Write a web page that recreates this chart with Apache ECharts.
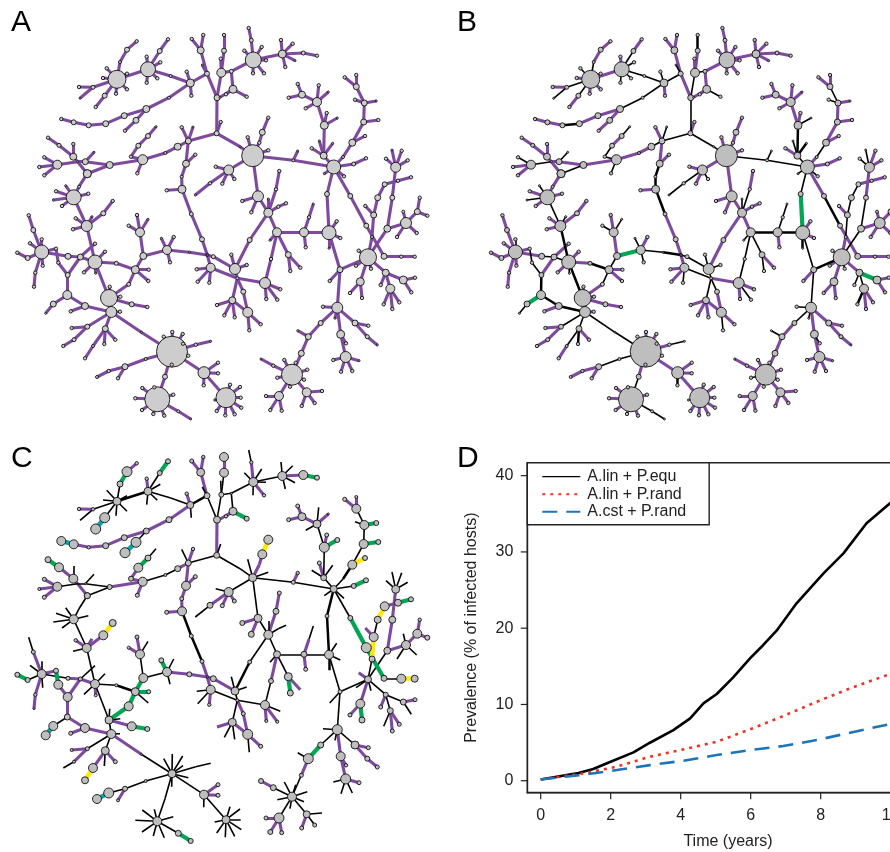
<!DOCTYPE html>
<html><head><meta charset="utf-8">
<style>html,body{margin:0;padding:0;background:#fff;overflow:hidden}#c{width:890px;height:852px}</style>
<script src="https://cdn.jsdelivr.net/npm/echarts@6/dist/echarts.min.js"></script></head>
<body><div id="c"></div>
<script>
// Network node = [x, y, radius in A/B, radius in C, edge style in B + edge style in C, children]
// Edge styles: p purple, k thin black, K thick black, g green, y yellow, t teal
const networkTree = [252.7,155.7,11,4,'kk',[
 [240,146.7,1,0,'kk',[[216.7,133.3,2.5,3,'kk',[
  [220.7,122,1.7,0,'pk'],
  [217,97.7,3,3.5,'kp',[
   [221.3,72.7,4.5,2.5,'kk',[
    [224,50.7,2.5,4.5,'pk',[[224,35,1.7,4.5,'Kp']]],
    [220.7,58.7,1.7,0,'pk'],
    [231.3,71.3,2,1,'kk',[
     [233,89.3,4,4,'pk',[[246.7,96.7,1.7,2.5,'kg'],[226,94.3,1.7,1.7,'pp'],[220,97.3,1,0,'pp']]],
     [253.3,60,8,4.5,'pk',[
      [251.3,40.3,2,1.7,'pp',[[248.7,28,1.7,0,'pk']]],
      [244.3,50.7,1.7,0,'pk'],[261.7,47,1.7,0,'pk'],[266,60.3,1.7,0,'pk'],[264,73.3,1.7,1.7,'pp'],[253,73.3,1.7,0,'pk'],
      [282.3,54,4,4.5,'pk',[[281,40,1.7,0,'pk'],[292.7,43.7,1.7,0,'pk'],[295,60.7,1,0,'pk'],[285.3,67,1.7,0,'pk'],
       [303.3,53,2,4.5,'pp',[[317,55.7,1.7,2.5,'pg']]]]]
     ]]
    ]]
   ]],
   [207,73.7,2.5,3,'pk',[
    [202.3,65,1,0,'kk'],
    [200.7,50.3,3.5,4,'pp',[[191.7,39,1.7,2,'pp'],[203.3,35,1.7,1.7,'pp']]],
    [190.3,83,4,3.5,'kK',[
     [191.3,95.7,1.7,0,'pk'],[186.7,71.7,1.7,1.7,'kp'],
     [170.7,76,1.5,0,'kk',[[148,69.3,7.5,4,'kk',[
      [146.7,56.7,1.7,1.7,'pp'],[160.3,62.3,1.7,0,'kk'],[157.3,78.3,1.7,0,'kk'],[146.7,82.7,1.7,0,'kk'],
      [159.7,51,2.5,2.5,'kk',[[168,39.3,1.7,2.5,'pg']]],
      [117,79.3,9,4,'pK',[
       [127,73.7,1.7,0,'pk'],[106.7,68.3,1.7,0,'kk'],[103,78,1.7,0,'pk'],[116,93.7,1.7,0,'pk'],[127,89.3,1.7,0,'pk'],
       [120,62,1.5,3,'kk',[[127,49.7,2.5,5,'pg',[[136.7,41.3,1.7,1.7,'pp']]]]],
       [93,87.3,2,1.7,'kk',[[79,87,1.7,1.7,'pp'],[80,98.3,1,0,'kk']]],
       [104.7,95.7,2.5,5,'kk',[[95.7,107,1.7,5,'pt']]]
      ]]
     ]]]],
     [169,97.7,1.5,3,'kp',[[146.3,109,3.5,3,'kp',[
      [136,120.3,3,5,'pk',[[125,130.7,1.7,5,'pt']]],
      [124.3,115.7,3,3,'pp',[[105.7,123.7,3,3,'pp',[[88.7,125.3,2.5,1.7,'Kp',[[73.7,122.3,2.5,4.5,'pp',[[61.3,119,1.7,4.5,'pt']]]]]]]]]
     ]]]]
    ]]
   ]]
  ]],
  [188.3,141,3,3,'kk',[
   [181.7,127.3,1.7,0,'pk'],[193,127,1,1.7,'kp'],
   [186,163.7,3.5,4.5,'pp',[[195.3,154.7,1.7,2,'pp'],
    [181.7,176.7,1.5,2,'Kp',[[182,189.3,4,4.5,'Kp',[[166.7,190.3,1.7,2,'pp'],
     [191.3,214,2,2,'KK',[[202,239.3,2.5,2,'pK',[[207.3,255,1,1,'pp']]]]]
    ]]]]
   ]],
   [177.7,146.7,3.5,3,'kp',[[165.3,153,1.5,1.5,'pk',[[142.7,159.7,5,4.5,'pk',[
    [137.3,173.3,1.7,2,'kp'],
    [131,156.7,1.7,2.5,'kp',[[138.3,145.7,2.5,4.5,'kp',[[148,136,2.5,3,'pg',[[156,126.7,1,0,'kk']]]]]]],
    [109.7,165,3.5,2.5,'pp',[
     [85.3,161.7,3,1,'pk',[
      [94,152.3,1,0,'kk'],
      [77.7,161.7,1,0,'pk',[
       [73.3,156.7,3.5,4.5,'pp',[[73.3,144,1.7,0,'pk'],[59,145.3,2,4.5,'pp',[[48,137.7,1.7,3,'pg']]]]],
       [57.3,164.7,4.5,4.5,'kk',[[44.3,157.3,1.7,2,'kp'],[39.3,167,1.7,1.5,'pp'],[44.3,175.3,1.7,2,'pp']]],
       [87.3,173.7,4,3,'pp']
      ]]
     ]],
     [87.3,173.7,4,3,'kk',[[79,186.7,1.5,0,'pk',[[73.7,197.3,7.5,4.5,'pk',[
      [65.7,185.7,1,0,'kk'],[56,191.3,1.7,0,'pk'],[53.3,200,1,0,'kk'],[62,206,1.7,0,'pk'],[88.3,193.7,1.7,0,'pk'],
      [86.7,226,5.5,4.5,'kk',[
       [75.7,218.3,1.7,1.7,'pp'],[73,229.3,1.7,0,'pk'],[92,216.7,1,0,'kp'],
       [103.3,213.3,2.5,4.5,'pp',[[112.7,201,1.7,3.5,'py']]],
       [95,262,7,4.5,'Kk',[
        [105,251.7,1.7,0,'pk'],[84,272.3,1.7,0,'pk'],[95.7,273.3,1,1.5,'kp'],
        [116.3,263.3,2,1.5,'pk',[[135.3,269.7,4,4,'KK',[
         [148.7,269.7,1.7,2,'pg'],[148.3,281,1.7,0,'pk'],
         [143.3,256,3.5,4.5,'kg',[
          [140,232.3,4.5,4.5,'pk',[[137,215,1.7,2,'pp'],[128.7,225.7,1.7,1.5,'kp'],[148,219.3,1,0,'kk']]],
          [167,250,4.5,4.5,'gk',[
           [161.3,238.3,1,2.5,'kg'],[173.7,237,1.7,0,'pk'],[170,262.3,1.7,0,'kk'],
           [189.3,252.3,1,2.5,'kp',[[207.3,255,1.5,1,'Kp',[
            [213.3,256.7,2,3,'kp',[[235,269,0,0,'kp']]],
            [210.7,267.7,4.5,4.5,'pp',[[196.7,269.3,1.7,0,'pk'],[197.7,281.7,1.7,0,'pk'],[209.3,282.7,1.7,1.7,'kp'],[237.3,278.3,0,0,'kk']]]
           ]]]]
          ]]
         ]]
        ]]]],
        [80.3,257,3,2,'kp',[[95,243.7,1.7,0,'pk'],
         [68,256.3,3,2,'kp',[[41.7,252,7,4.5,'pk',[
          [41.7,239.3,1.7,0,'kk'],[30,243.3,1.7,0,'pk'],
          [33.3,230,2.5,2,'pp',[[28.7,215.3,1.7,0,'pk']]],
          [27.7,258,2.5,2.5,'pk',[[17.3,252.7,1.7,2.5,'pg']]],
          [42.7,265.7,1.7,0,'pk'],
          [35.3,272.7,1.7,1.7,'pp',[[34,286.7,1.7,1,'pp']]],
          [56,248.7,1.7,2.5,'pp',[[58.3,262.7,1.7,4.5,'kg',[[67.7,275,2.5,4.5,'kp',[[80.3,257,0,0,'pp']]]]]]]
         ]]]]
        ]],
        [109,298,8.5,4,'Kk',[
         [109.7,286.7,1.7,0,'pk'],[120.3,296.7,1.7,0,'pk'],
         [131.7,304.3,2.5,4.5,'pp',[[147.3,307,1.7,2.5,'pg']]],
         [128.7,284.3,2,4.5,'pg',[[135.3,269.7,0,0,'kg']]],
         [111.3,312,5.5,4.5,'pk',[
          [120,311.7,1.7,0,'pk'],
          [85,306,3.5,4.5,'Kp',[[70.7,311.3,1.7,2,'pp'],
           [67.3,295,4.5,3,'Kp',[[67.7,275,0,0,'Kp'],[53.3,304,3,4.5,'gk',[[45.7,313.3,1,4.5,'kt']]]]]
          ]],
          [87.3,326.7,2.5,2,'kk',[[71.7,328,1.7,1.5,'pp'],[74,339.7,2,1.5,'pp',[[63.3,346,1.7,0,'pk']]]]],
          [105.3,328.7,3,4,'kk',[[115.3,339.7,1.7,2,'pp'],[104.3,344,1.7,0,'Kk'],[93,346,1.5,4.5,'kp',[[85,358.3,1.7,3.5,'py']]]]],
          [141.3,332.3,1,1,'kp',[[172,351.7,15.5,4,'kk',[
           [163.7,336.7,1.7,0,'kk'],[172.3,332,1.7,0,'pk'],[182.7,334,1.7,0,'pk'],[183,343.7,1.7,0,'pk'],[188.3,355.7,1.7,0,'pk'],[171.7,364.7,1.7,0,'pk'],
           [195.7,344.7,1.7,0,'pk',[[210.7,341.3,1,0,'kk']]],
           [204,372.7,6,4.5,'pk',[[218,362.7,1.7,2,'pp'],[218,373.3,1.7,2,'pp'],[203.7,385.3,1.7,0,'Kk'],
            [226,397.7,10,4,'pk',[[230,384.7,1.7,0,'pk'],[240,387,1.7,0,'pk'],[240.7,397.7,1.7,0,'pk'],[241.3,407.7,1.7,0,'pk'],[234.7,414.3,1.7,0,'pk'],[225.3,415.3,1.7,0,'pk'],[216.7,411,1.7,0,'pk'],[214.7,400,1,0,'kk']]]
           ]],
           [145.7,359,1.5,1.5,'kk',[[125,366.7,3,2.5,'kk',[[108.7,371,1.7,5,'pk',[[97,377,1.5,4.5,'pt']]],[118,378.3,1.7,1.5,'pp']]]]],
           [165,376.7,2.5,0,'pk',[[157.3,399.3,12.5,4.5,'kk',[
            [154.3,387.3,1.7,0,'pk'],[142.3,388,1.7,0,'pk'],[135.3,398.3,1.7,0,'pk'],[142,410,1.7,0,'pk'],[153.3,414,1.7,0,'pk'],[164.3,415.7,1.7,0,'pk'],[173.3,394.7,1.7,0,'pk'],
            [178.3,411.3,1.5,3,'kk',[[190.7,419,1,2.5,'kg']]]
           ]]]]
          ]]]]
         ]]
        ]]
       ]]
      ]]
     ]]]]]]
    ]]
   ]]]]]]
  ]]
 ]]]],
 [259.3,142.7,1.7,0,'pp',[[262.3,132.3,3,4.5,'pp',[[268.3,117.7,1.7,4.5,'py']]]]],
 [247.7,137.3,1.7,0,'pk'],[268.3,150.3,1.7,0,'pk'],
 [293.3,160.3,1.5,2,'kk',[[297.7,151,1,1.7,'kp'],
  [333.7,167,7,3.5,'kk',[
   [323.7,155.7,3.5,3,'kk',[[311.7,148.3,1.7,0,'pk'],[319.3,141,1,2,'kp'],[332.7,143.3,1,0,'Kk'],
    [324.3,125.3,4,5,'Kk',[[326.7,113,1.7,2,'pp'],[337.3,118,1,2.5,'kg'],
     [317,102,4.5,4,'pk',[[318.7,85.3,1.7,0,'pk'],[328.3,92,1,1,'pp'],[305.7,108.3,1.7,0,'pk'],
      [302,94.7,3.5,4,'pp',[[297.7,84,1.7,2,'pp'],[288.7,97.7,1.7,2,'pp']]]]]
    ]]
   ]],
   [343,157,1.5,0,'pk',[[352.3,142.7,3.5,4.5,'kK',[[365,136,1.7,2.5,'py'],
    [363.7,122,3,4.5,'pk',[[378.3,120,1.7,2.5,'pg'],
     [364.3,103,3,4.5,'pk',[[376.3,101,1,2.5,'pg'],[355,99.7,1.7,0,'kk'],
      [356.3,86.7,3,4.5,'kk',[[356.3,75,1.7,1.5,'pp'],[344.7,77.3,1.7,2,'pp']]]]]
    ]]
   ]]]],
   [353.7,164,2,2.5,'pk',[[366,158.3,1.7,2.5,'pg']]],
   [344,176.3,1.7,0,'kk'],[324.3,173.7,1,0,'kk'],
   [327,194,2.5,2,'kK',[[329,232.7,7,4.5,'gK',[
    [336.7,221.3,1.7,0,'pk'],[340.3,238,1.7,0,'pk'],[329,248.3,1,0,'KK'],
    [304,232.3,4.5,3,'Kk',[[309,217.3,1.7,0,'kp',[[313.3,204,1,0,'kk']]],[305.7,247.3,1.7,2,'pp'],
     [277,232.3,4.5,3.5,'Kk',[[270,240.3,1,0,'kk'],
      [288.3,254.7,3,4,'kk',[[290.3,271,1.7,3,'kg'],[300.3,267.7,1.7,0,'pp']]],
      [271,259,1.7,2.5,'kp',[[265,283,5.5,4.5,'kk',[[280.3,289.3,1.7,0,'pk'],[277.3,299.7,1.7,1.5,'kp'],[266.3,299,1.7,1.5,'pp']]]]]
     ]]
    ]],
    [340,269.7,3,2,'kk',[
     [329.7,281,1.7,0,'pk'],
     [368,257.3,8.5,3.5,'Kk',[
      [358.7,250.7,1.7,0,'pp'],[356,265.7,1.7,0,'pk'],[371,268.7,1.7,0,'kk'],
      [372,237,1.5,3,'pk',[[373.7,215,3,4.5,'ky',[[365.3,206,1.7,0,'pp'],[377.7,197.7,3,3.5,'kk',[[384.7,184.3,2.5,4.5,'ky',[[398,180.7,1.7,3.5,'pp',[[411,177.3,1.7,2.5,'pg']]]]]]]]]]],
      [360.3,281.7,4,4.5,'pp',[[350,293,1.7,2,'pp'],[362,298,1.7,3,'pg']]],
      [385.7,272.7,3.5,2.5,'pk',[
       [403.3,280,4,3,'gk',[[415,277.7,1.7,2,'pp'],[411.3,292.3,1.7,0,'pk']]],
       [380.7,285,1.7,2,'kp'],
       [390.3,288.7,4.5,3,'kk',[[383.7,304.3,1.7,0,'Kk'],[392.3,309,1.7,2,'pp'],[399.3,302.3,1.7,2,'pp']]]
      ]],
      [387.3,228.7,3.5,3.5,'kk',[
       [406,223,5.5,4.5,'pp',[[416.7,233,1.7,0,'pk'],[403.3,211.7,1.5,0,'pk'],[397,237,1.7,0,'pk'],
        [417.3,211.7,3,4.5,'pp',[[427.3,215.7,1.7,2.5,'pp'],[419.7,197.7,1.7,1.7,'pp']]]]],
       [392.3,197.7,2.5,3.5,'kp',[[395.7,167.3,5,4,'pp',[[386,158.7,1.7,0,'kk'],[392,150,1,0,'kk'],[401.7,150.7,1.7,0,'pk'],[407.7,160.3,1.7,0,'pk']]]]]
      ]]
     ]],
     [337.3,307.7,5.5,5,'kk',[
      [323,306.7,1.7,0,'kk'],[335,318.3,1,0,'kk'],
      [340.7,334.3,4,4.5,'pp',[[346,343.3,1.7,1.7,'kp'],[345.7,357,5.5,5,'pp',[[333.3,360,1.7,0,'pk'],[341,371.7,1.7,0,'pk'],[352.3,371,1.7,0,'pk'],[359,360.7,1,2,'pp']]]]],
      [355,323,3,4,'pk',[[368.3,325.7,1.7,2,'pp'],[367.3,336.7,2,2.5,'pp',[[377.3,345,1,2,'pp']]]]],
      [320.7,323,2.5,3,'kk',[[308.3,336.7,3,5,'pg',[[297.7,330.7,1,0,'kk'],
       [301.3,353.3,3,2,'pp',[[292,374.7,10.5,4.5,'pk',[
        [284.3,360,1.7,0,'pk'],[295.7,362.7,1.7,0,'kk'],[307.3,369.7,1.7,0,'pk'],[304,379.7,1.7,0,'pk'],[277.3,377.7,1.7,0,'kk'],[290,386.7,1.7,0,'kk'],
        [273.3,365.7,1.7,3,'pk',[[261,359,1,2.5,'pp']]],
        [279,396,4.5,5,'pk',[[266,396,1.7,2,'pp'],[270.3,410,1.7,2.5,'pp'],[281.7,410.7,1.7,2,'pp']]],
        [306.7,392.3,4.5,3.5,'pk',[[322,391,1.7,0,'pk'],[301.7,406,1.7,2,'pp'],[314.7,403,1.7,2,'pk']]]
       ]]]]
      ]]]]
     ]]
    ]]
   ]]]],
   [350.3,196,2.5,2.5,'pk',[[366.3,225.7,2.5,5,'Kg',[[384,256.3,3,3,'pg',[[401.3,256.7,1.7,4.5,'pk',[[414.7,256.7,1.7,3.5,'py']]]]]]]]]
  ]]
 ]],
 [228.7,170,5,4.5,'pk',[[222.3,183.7,1.7,2,'pp'],[234.3,179,1.7,2,'kp'],[215.7,166.7,1.7,0,'pk'],[210,183.3,1.7,3,'kp',[[195.3,195,1,0,'kk']]]]],
 [258,196.3,5.5,4,'pk',[[242.3,201,1.7,2.5,'pp'],[251.3,212.3,1.7,3,'pp'],
  [268.3,212.7,4.5,4.5,'pk',[
   [278.3,206.7,1.7,0,'pk',[[286,203.3,1.7,0,'pk']]],[268.3,199,1,0,'kk'],
   [276,189.3,1.7,3,'kp',[[279.3,171,1.7,2,'pp']]],
   [277,232.3,0,0,'pk'],
   [249.7,240,2.5,2,'pk',[[235,269,5.5,4,'pK',[
    [231.3,254.7,1.7,0,'kk'],[246.7,265,1.7,0,'kk'],
    [237.3,278.3,1.5,1.5,'kk',[[265,283,0,0,'pk'],
     [232.3,300.3,3.5,4,'kk',[[234.7,317.3,1.7,0,'pk'],[224.3,315.3,1.7,0,'pk'],[217,305,1.7,0,'pp'],[247.7,312.3,0,0,'pp']]],
     [243.3,291.7,2.5,2,'kp',[[247.7,312.3,5,5,'pp',[[260.7,324.3,1.7,2,'pp'],[249.3,330.3,1.7,0,'kk']]]]]
    ]]
   ]]]]
  ]]
 ]]
]];

const legendNames = ['A.lin + P.equ','A.lin + P.rand','A.cst + P.rand'];
const timeEqu = [0,1.03,1.5,1.98,2.65,3.12,3.79,4.27,4.65,5.03,5.5,5.98,6.36,6.74,7.31,8.08,8.65,9.31,9.98,10.1];
const prevEqu = [0.17,0.96,1.53,2.45,3.72,4.98,6.64,8.17,10.14,11.37,13.55,16.04,17.8,19.67,23.26,27.19,29.81,33.75,36.37,36.9];
const timeRand = [0,1.22,2.17,3.12,4.08,5.03,5.98,6.93,7.89,8.84,9.98,10.1];
const prevLinRand = [0.17,0.96,1.84,3.15,4.11,5.11,6.73,8.48,10.36,12.11,13.99,14.2];
const prevCstRand = [0.17,0.79,1.4,2.05,2.62,3.37,4.02,4.55,5.33,6.3,7.43,7.55];
const xTicks = [0,2,4,6,8,10];
const yTicks = [0,10,20,30,40];
const panelLetters = ['A','B','C','D'];

const font = '"Liberation Sans", Arial, sans-serif';
const styles = {
  p:{color:'#7D4A9D',width:3.1,z:2}, k:{color:'#000',width:1.6,z:3}, K:{color:'#000',width:2.5,z:3},
  g:{color:'#00A651',width:4.2,z:4}, y:{color:'#FFE90A',width:4.6,z:4}, t:{color:'#00A5A5',width:4.6,z:4}
};
const nodeList = [], edgeList = [];
(function walk(n, parent){
  const [x,y,ra,rc,code,kids] = n;
  nodeList.push({x,y,ra,rc});
  if(parent) edgeList.push({from:[parent[0],parent[1]],to:[x,y],b:code[0],c:code[1]});
  (kids||[]).forEach(k=>walk(k,n));
})(networkTree,null);

const panels = [
 {left:0,top:0,key:'p',fill:'#CDCDCD',size:'ra'},
 {left:473.7,top:0,key:'b',fill:'#BEBEBE',size:'ra'},
 {left:0,top:422,key:'c',fill:'#BEBEBE',size:'rc'}
];
const grids=[], xAxes=[], yAxes=[], series=[];
panels.forEach((p,i)=>{
  grids.push({left:p.left,top:p.top,width:445,height:425,show:false,outerBoundsMode:'none',containLabel:false});
  xAxes.push({type:'value',gridIndex:i,min:0,max:445,show:false});
  yAxes.push({type:'value',gridIndex:i,min:0,max:425,inverse:true,show:false});
  Object.keys(styles).forEach(s=>{
    const data = edgeList.filter(e=>(p.key==='p'?'p':e[p.key])===s).map(e=>({coords:[e.from,e.to]}));
    if(!data.length) return;
    series.push({type:'lines',coordinateSystem:'cartesian2d',xAxisIndex:i,yAxisIndex:i,polyline:false,silent:true,
      z:styles[s].z,animation:false,lineStyle:{color:styles[s].color,width:styles[s].width,opacity:1,curveness:0,cap:'butt'},data});
  });
  const nodes = nodeList.filter(n=>n[p.size]>0).sort((a,b)=>b[p.size]-a[p.size])
     .map(n=>[n.x,n.y,n[p.size]]);
  series.push({type:'scatter',xAxisIndex:i,yAxisIndex:i,silent:true,z:6,animation:false,
    symbol:'circle',symbolSize:v=>v[2]*2,itemStyle:{color:p.fill,borderColor:'#111',borderWidth:0.9,opacity:1},data:nodes});
});

// Panel D
const gi = 3;
const xMin=-0.383, xMax=11.086, yMin=-1.57, yMax=41.7;
const axisEdge = {show:true,onZero:false,lineStyle:{color:'#222',width:1.4}};
grids.push({left:527.3,top:462.7,width:401.4,height:330,show:true,borderColor:'#222',borderWidth:1.4,backgroundColor:'transparent',outerBoundsMode:'none',containLabel:false});
xAxes.push({type:'value',gridIndex:gi,position:'bottom',min:xMin,max:xMax,name:'Time (years)',nameLocation:'middle',nameGap:41,
  nameTextStyle:{fontFamily:font,fontSize:16,color:'#222'},splitLine:{show:false},axisLine:axisEdge,axisTick:{show:false},
  axisLabel:{customValues:xTicks,margin:15,fontFamily:font,fontSize:16,color:'#222'}});
yAxes.push({type:'value',gridIndex:gi,position:'left',min:yMin,max:yMax,name:'Prevalence (% of infected hosts)',nameLocation:'middle',nameGap:48,nameRotate:90,
  nameTextStyle:{fontFamily:font,fontSize:16,color:'#222'},splitLine:{show:false},axisLine:axisEdge,axisTick:{show:false},
  axisLabel:{customValues:yTicks,margin:14,fontFamily:font,fontSize:16,color:'#222'}});
const zip=(a,b)=>a.map((v,i)=>[v,b[i]]);
const lineDefs=[
 [legendNames[0],zip(timeEqu,prevEqu),'#000',2.6,'solid'],
 [legendNames[1],zip(timeRand,prevLinRand),'#EE3124',2.6,[3,5]],
 [legendNames[2],zip(timeRand,prevCstRand),'#1C75BC',2.6,[15,9]]
];
lineDefs.forEach(d=>series.push({type:'line',name:d[0],xAxisIndex:gi,yAxisIndex:gi,data:d[1],showSymbol:false,symbol:'none',
  animation:false,silent:true,z:5,color:d[2],lineStyle:{color:d[2],width:d[3],type:d[4]}}));

const letterPos=[[11,8],[457,8],[11,444],[457,444]];
const chart = echarts.init(document.getElementById('c'),null,{renderer:'canvas'});
const hiddenMark={opacity:0};
chart.setOption({
  animation:false,backgroundColor:'#fff',
  grid:grids,xAxis:xAxes,yAxis:yAxes,series,
  legend:{show:true,selectedMode:false,left:527.3,top:462.7,orient:'vertical',itemWidth:38,itemHeight:12,itemGap:1.5,
    padding:[6,23,5,14],backgroundColor:'#fff',borderColor:'#222',borderWidth:1.4,z:10,
    textStyle:{fontFamily:font,fontSize:16,color:'#222',padding:[0,0,0,2]},
    data:[{name:legendNames[0],itemStyle:hiddenMark,lineStyle:{width:1.3}},
          {name:legendNames[1],itemStyle:hiddenMark,lineStyle:{width:2}},
          {name:legendNames[2],itemStyle:hiddenMark,lineStyle:{width:2}}]}
});
// Tick marks placed through the chart's own scales, so they sit exactly on the axis values
const toPx = (x,y)=>chart.convertToPixel({gridIndex:gi},[x,y]);
const tickLen = 6.5;
const tickEls = [
  ...xTicks.map(t=>{const p=toPx(t,yMin);return {type:'line',z:20,shape:{x1:p[0],y1:p[1],x2:p[0],y2:p[1]+tickLen},style:{stroke:'#222',lineWidth:1.2}};}),
  ...yTicks.map(v=>{const p=toPx(xMin,v);return {type:'line',z:20,shape:{x1:p[0],y1:p[1],x2:p[0]-tickLen,y2:p[1]},style:{stroke:'#222',lineWidth:1.2}};})
];
chart.setOption({graphic:[
  ...panelLetters.map((t,i)=>({type:'text',left:letterPos[i][0],top:letterPos[i][1],style:{text:t,fontFamily:font,fontSize:30,fill:'#000'}})),
  ...tickEls
]});
</script></body></html>
